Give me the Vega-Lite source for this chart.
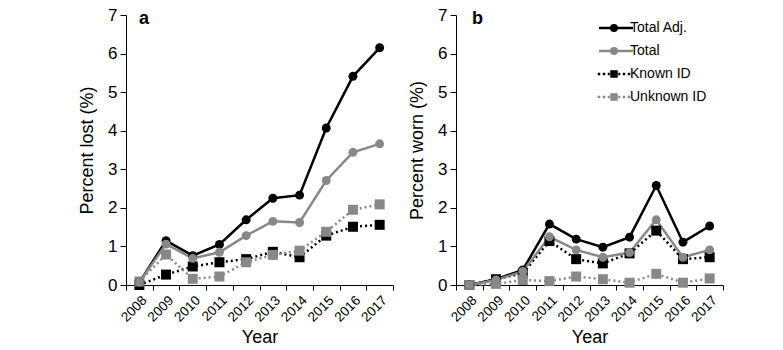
{
  "$schema": "https://vega.github.io/schema/vega-lite/v6.json",
  "padding": {"left": 78, "top": 6, "right": 0, "bottom": 0},
  "background": "white",
  "spacing": 14,
  "resolve": {
    "scale": {"stroke": "independent", "fill": "independent", "strokeDash": "independent", "shape": "independent"},
    "legend": {"stroke": "independent", "fill": "independent", "strokeDash": "independent", "shape": "independent"}
  },
  "config": {
    "view": {"stroke": null},
    "font": "Liberation Sans",
    "axis": {
      "grid": false,
      "domainColor": "black",
      "tickColor": "black",
      "labelColor": "black",
      "titleColor": "black",
      "labelFont": "Liberation Sans",
      "titleFont": "Liberation Sans",
      "titleFontWeight": "normal",
      "titleFontSize": 18
    },
    "axisY": {"labelFontSize": 17, "tickSize": 6, "labelPadding": 3, "titlePadding": 11},
    "axisX": {"labelFontSize": 13.5, "tickSize": 5, "labelPadding": 3, "titlePadding": 5},
    "title": {"font": "Liberation Sans", "fontSize": 18, "fontWeight": "bold", "color": "black", "anchor": "start", "frame": "group"},
    "legend": {"symbolBaseFillColor": "black", "symbolBaseStrokeColor": "black"}
  },
  "datasets": {
    "lost": [
      {"year": "2008", "series": "Total Adj.", "value": 0.07},
      {"year": "2009", "series": "Total Adj.", "value": 1.15},
      {"year": "2010", "series": "Total Adj.", "value": 0.76},
      {"year": "2011", "series": "Total Adj.", "value": 1.05},
      {"year": "2012", "series": "Total Adj.", "value": 1.69},
      {"year": "2013", "series": "Total Adj.", "value": 2.25},
      {"year": "2014", "series": "Total Adj.", "value": 2.33},
      {"year": "2015", "series": "Total Adj.", "value": 4.07},
      {"year": "2016", "series": "Total Adj.", "value": 5.41},
      {"year": "2017", "series": "Total Adj.", "value": 6.15},
      {"year": "2008", "series": "Total", "value": 0.07},
      {"year": "2009", "series": "Total", "value": 1.06},
      {"year": "2010", "series": "Total", "value": 0.69},
      {"year": "2011", "series": "Total", "value": 0.85},
      {"year": "2012", "series": "Total", "value": 1.28},
      {"year": "2013", "series": "Total", "value": 1.65},
      {"year": "2014", "series": "Total", "value": 1.62},
      {"year": "2015", "series": "Total", "value": 2.71},
      {"year": "2016", "series": "Total", "value": 3.44},
      {"year": "2017", "series": "Total", "value": 3.66},
      {"year": "2008", "series": "Known ID", "value": 0.0},
      {"year": "2009", "series": "Known ID", "value": 0.27},
      {"year": "2010", "series": "Known ID", "value": 0.48},
      {"year": "2011", "series": "Known ID", "value": 0.59},
      {"year": "2012", "series": "Known ID", "value": 0.67},
      {"year": "2013", "series": "Known ID", "value": 0.86},
      {"year": "2014", "series": "Known ID", "value": 0.72},
      {"year": "2015", "series": "Known ID", "value": 1.28},
      {"year": "2016", "series": "Known ID", "value": 1.51},
      {"year": "2017", "series": "Known ID", "value": 1.56},
      {"year": "2008", "series": "Unknown ID", "value": 0.09},
      {"year": "2009", "series": "Unknown ID", "value": 0.79},
      {"year": "2010", "series": "Unknown ID", "value": 0.16},
      {"year": "2011", "series": "Unknown ID", "value": 0.22},
      {"year": "2012", "series": "Unknown ID", "value": 0.59},
      {"year": "2013", "series": "Unknown ID", "value": 0.78},
      {"year": "2014", "series": "Unknown ID", "value": 0.89},
      {"year": "2015", "series": "Unknown ID", "value": 1.38},
      {"year": "2016", "series": "Unknown ID", "value": 1.95},
      {"year": "2017", "series": "Unknown ID", "value": 2.09}
    ],
    "worn": [
      {"year": "2008", "series": "Total Adj.", "value": 0.0},
      {"year": "2009", "series": "Total Adj.", "value": 0.15},
      {"year": "2010", "series": "Total Adj.", "value": 0.39},
      {"year": "2011", "series": "Total Adj.", "value": 1.58},
      {"year": "2012", "series": "Total Adj.", "value": 1.19},
      {"year": "2013", "series": "Total Adj.", "value": 0.98},
      {"year": "2014", "series": "Total Adj.", "value": 1.24},
      {"year": "2015", "series": "Total Adj.", "value": 2.58},
      {"year": "2016", "series": "Total Adj.", "value": 1.11},
      {"year": "2017", "series": "Total Adj.", "value": 1.53},
      {"year": "2008", "series": "Total", "value": 0.0},
      {"year": "2009", "series": "Total", "value": 0.13},
      {"year": "2010", "series": "Total", "value": 0.35},
      {"year": "2011", "series": "Total", "value": 1.25},
      {"year": "2012", "series": "Total", "value": 0.91},
      {"year": "2013", "series": "Total", "value": 0.72},
      {"year": "2014", "series": "Total", "value": 0.84},
      {"year": "2015", "series": "Total", "value": 1.69},
      {"year": "2016", "series": "Total", "value": 0.72},
      {"year": "2017", "series": "Total", "value": 0.91},
      {"year": "2008", "series": "Known ID", "value": 0.0},
      {"year": "2009", "series": "Known ID", "value": 0.15},
      {"year": "2010", "series": "Known ID", "value": 0.30},
      {"year": "2011", "series": "Known ID", "value": 1.14},
      {"year": "2012", "series": "Known ID", "value": 0.67},
      {"year": "2013", "series": "Known ID", "value": 0.56},
      {"year": "2014", "series": "Known ID", "value": 0.82},
      {"year": "2015", "series": "Known ID", "value": 1.41},
      {"year": "2016", "series": "Known ID", "value": 0.67},
      {"year": "2017", "series": "Known ID", "value": 0.72},
      {"year": "2008", "series": "Unknown ID", "value": 0.0},
      {"year": "2009", "series": "Unknown ID", "value": 0.03},
      {"year": "2010", "series": "Unknown ID", "value": 0.13},
      {"year": "2011", "series": "Unknown ID", "value": 0.10},
      {"year": "2012", "series": "Unknown ID", "value": 0.22},
      {"year": "2013", "series": "Unknown ID", "value": 0.15},
      {"year": "2014", "series": "Unknown ID", "value": 0.06},
      {"year": "2015", "series": "Unknown ID", "value": 0.29},
      {"year": "2016", "series": "Unknown ID", "value": 0.06},
      {"year": "2017", "series": "Unknown ID", "value": 0.17}
    ]
  },
  "hconcat": [
    {
      "width": 267,
      "height": 270,
      "title": {"text": "a", "dx": 13, "dy": 22, "offset": 0},
      "data": {"name": "lost"},
      "encoding": {
        "x": {"field": "year", "type": "ordinal", "title": "Year",
              "scale": {"type": "band", "paddingInner": 0, "paddingOuter": 0},
              "axis": {"tickBand": "extent", "labelAngle": -45, "labelAlign": "right", "labelBaseline": "top", "labelOverlap": false}},
        "y": {"field": "value", "type": "quantitative", "title": "Percent lost (%)",
              "scale": {"domain": [0, 7], "nice": false},
              "axis": {"values": [0, 1, 2, 3, 4, 5, 6, 7]}},
        "color": {"field": "series", "type": "nominal", "legend": null,
                  "scale": {"domain": ["Unknown ID", "Known ID", "Total", "Total Adj."], "range": ["#888888", "#000000", "#888888", "#000000"]}}
      },
      "layer": [
        {
          "transform": [{"filter": "datum.series == 'Known ID' || datum.series == 'Unknown ID'"}],
          "mark": {"type": "line", "strokeWidth": 2.5, "strokeDash": [2, 3]}
        },
        {
          "transform": [{"filter": "datum.series == 'Total' || datum.series == 'Total Adj.'"}],
          "mark": {"type": "line", "strokeWidth": 2.5}
        },
        {
          "transform": [{"filter": "datum.series == 'Known ID' || datum.series == 'Unknown ID'"}],
          "mark": {"type": "point", "shape": "square", "filled": true, "opacity": 1, "size": 100}
        },
        {
          "transform": [{"filter": "datum.series == 'Total' || datum.series == 'Total Adj.'"}],
          "mark": {"type": "point", "shape": "circle", "filled": true, "opacity": 1, "size": 80}
        }
      ]
    },
    {
      "width": 267,
      "height": 270,
      "title": {"text": "b", "dx": 16, "dy": 22, "offset": 0},
      "data": {"name": "worn"},
      "encoding": {
        "x": {"field": "year", "type": "ordinal", "title": "Year",
              "scale": {"type": "band", "paddingInner": 0, "paddingOuter": 0},
              "axis": {"tickBand": "extent", "labelAngle": -45, "labelAlign": "right", "labelBaseline": "top", "labelOverlap": false}},
        "y": {"field": "value", "type": "quantitative", "title": "Percent worn (%)",
              "scale": {"domain": [0, 7], "nice": false},
              "axis": {"values": [0, 1, 2, 3, 4, 5, 6, 7]}}
      },
      "layer": [
        {
          "transform": [{"filter": "datum.series == 'Known ID' || datum.series == 'Unknown ID'"}],
          "mark": {"type": "line", "strokeWidth": 2.5, "strokeDash": [2, 3]},
          "encoding": {
            "color": {"field": "series", "type": "nominal", "legend": null,
                      "scale": {"domain": ["Unknown ID", "Known ID", "Total", "Total Adj."], "range": ["#888888", "#000000", "#888888", "#000000"]}}
          }
        },
        {
          "transform": [{"filter": "datum.series == 'Total' || datum.series == 'Total Adj.'"}],
          "mark": {"type": "line", "strokeWidth": 2.5},
          "encoding": {
            "color": {"field": "series", "type": "nominal", "legend": null,
                      "scale": {"domain": ["Unknown ID", "Known ID", "Total", "Total Adj."], "range": ["#888888", "#000000", "#888888", "#000000"]}}
          }
        },
        {
          "transform": [{"filter": "datum.series == 'Known ID' || datum.series == 'Unknown ID'"}],
          "mark": {"type": "point", "shape": "square", "filled": true, "opacity": 1, "size": 100},
          "encoding": {
            "color": {"field": "series", "type": "nominal", "legend": null,
                      "scale": {"domain": ["Unknown ID", "Known ID", "Total", "Total Adj."], "range": ["#888888", "#000000", "#888888", "#000000"]}}
          }
        },
        {
          "transform": [{"filter": "datum.series == 'Total' || datum.series == 'Total Adj.'"}],
          "mark": {"type": "point", "shape": "circle", "filled": true, "opacity": 1, "size": 80},
          "encoding": {
            "color": {"field": "series", "type": "nominal", "legend": null,
                      "scale": {"domain": ["Unknown ID", "Known ID", "Total", "Total Adj."], "range": ["#888888", "#000000", "#888888", "#000000"]}}
          }
        },
        {
          "transform": [{"filter": "datum.value > 100"}],
          "mark": {"type": "point", "filled": true, "opacity": 1, "strokeWidth": 2.5},
          "encoding": {
            "fill": {"field": "series", "type": "nominal",
                     "scale": {"domain": ["Total Adj.", "Total", "Known ID", "Unknown ID"], "range": ["#000000", "#888888", "#000000", "#888888"]},
                     "legend": {"title": null, "orient": "none", "legendX": 151, "legendY": 6, "labelFontSize": 14, "labelFont": "Liberation Sans", "labelColor": "black", "symbolSize": 100, "symbolStrokeWidth": 2.5, "symbolFillColor": "black", "symbolStrokeColor": "black", "labelOffset": 9, "rowPadding": 7}},
            "stroke": {"field": "series", "type": "nominal",
                     "scale": {"domain": ["Total Adj.", "Total", "Known ID", "Unknown ID"], "range": ["#000000", "#888888", "#000000", "#888888"]},
                     "legend": {"title": null, "orient": "none", "legendX": 151, "legendY": 6, "labelFontSize": 14, "labelFont": "Liberation Sans", "labelColor": "black", "symbolSize": 100, "symbolStrokeWidth": 2.5, "symbolFillColor": "black", "symbolStrokeColor": "black", "labelOffset": 9, "rowPadding": 7}},
            "shape": {"field": "series", "type": "nominal",
                      "scale": {"domain": ["Total Adj.", "Total", "Known ID", "Unknown ID"],
                                "range": ["M-3.0,0L3.8,0M0.55,0A0.55,0.55 0 1,1 -0.55,0A0.55,0.55 0 1,1 0.55,0Z",
                                          "M-3.0,0L3.8,0M0.55,0A0.55,0.55 0 1,1 -0.55,0A0.55,0.55 0 1,1 0.55,0Z",
                                          "M-3.25,0L-2.75,0M-2.25,0L-1.75,0M-1.25,0L-0.85,0M-0.5,-0.5L0.5,-0.5L0.5,0.5L-0.5,0.5ZM0.85,0L1.25,0M1.75,0L2.25,0M2.75,0L3.25,0",
                                          "M-3.25,0L-2.75,0M-2.25,0L-1.75,0M-1.25,0L-0.85,0M-0.5,-0.5L0.5,-0.5L0.5,0.5L-0.5,0.5ZM0.85,0L1.25,0M1.75,0L2.25,0M2.75,0L3.25,0"]},
                      "legend": {"title": null, "orient": "none", "legendX": 151, "legendY": 6, "labelFontSize": 14, "labelFont": "Liberation Sans", "labelColor": "black", "symbolSize": 100, "symbolStrokeWidth": 2.5, "symbolFillColor": "black", "symbolStrokeColor": "black", "labelOffset": 9, "rowPadding": 7}}
          }
        }
      ]
    }
  ]
}
